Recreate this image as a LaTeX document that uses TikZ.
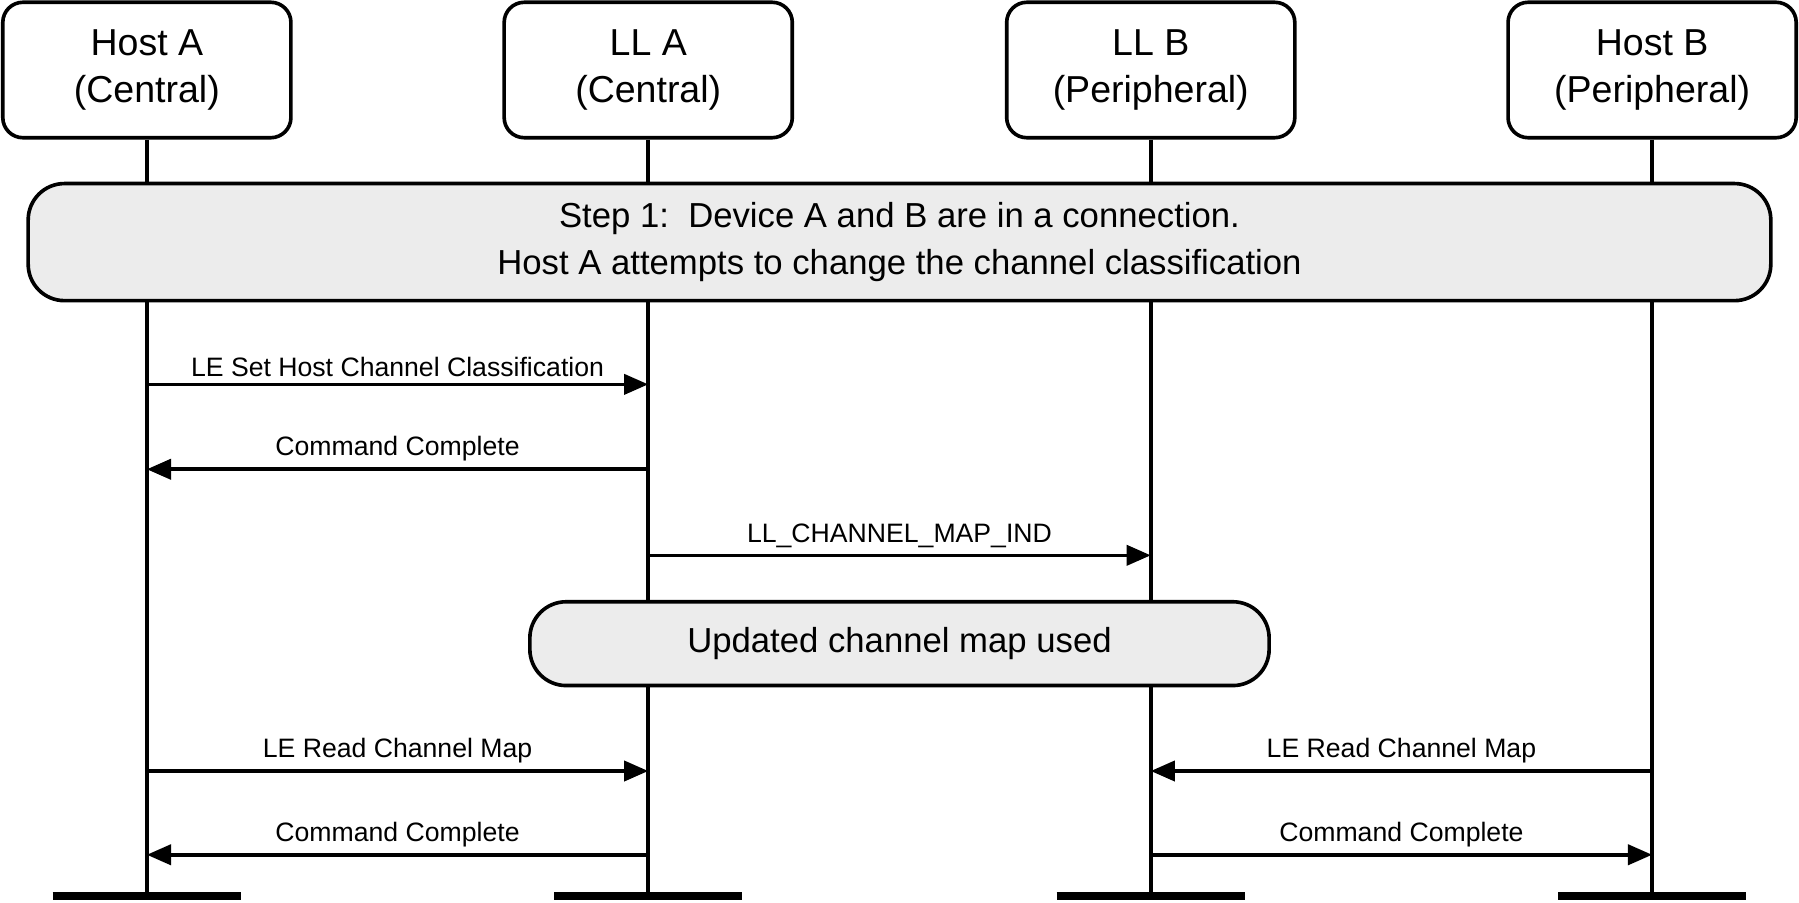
\documentclass[tikz,border=0pt]{standalone}
\usepackage{fontspec}
\setmainfont{Liberation Sans}
\usetikzlibrary{arrows.meta,positioning}

\begin{document}
\begin{tikzpicture}[
    x=0.01cm, y=-0.01cm,
    head/.style={rectangle, draw, line width=0.9pt, rounded corners=5pt, minimum width=2.51cm, minimum height=1.18cm, align=center, font=\fontsize{9.3}{11.5}\selectfont, inner sep=0pt},
    band/.style={rectangle, draw, line width=0.9pt, fill=gray!15, rounded corners=9pt, align=center, font=\fontsize{8.6}{11.5}\selectfont, inner sep=0pt},
    life/.style={line width=0.9pt},
    foot/.style={line width=1.9pt},
    msg/.style={line width=0.9pt, -{Triangle[length=6pt,width=5pt]}},
    lbl/.style={above, font=\fontsize{6.6}{8}\selectfont, inner sep=1.5pt}
]
    \useasboundingbox (0,0) rectangle (1568,787);
    % lifeline heads
    \node[head] (hA) at (128,61) {Host A\\(Central)};
    \node[head] (lA) at (565,61) {LL A\\(Central)};
    \node[head] (lB) at (1003,61) {LL B\\(Peripheral)};
    \node[head] (hB) at (1440,61) {Host B\\(Peripheral)};

    % lifelines and feet
    \foreach \n in {hA,lA,lB,hB} {
        \coordinate (\n-end) at (\n.south |- 0,781);
        \draw[life] (\n.south) -- (\n-end);
        \draw[foot] ([xshift=-0.82cm]\n-end) -- ([xshift=0.82cm]\n-end);
    }

    % step boxes
    \node[band, minimum width=15.18cm, minimum height=1.02cm] (step) at (784,211)
        {Step 1:\ \ Device A and B are in a connection.\\Host A attempts to change the channel classification};
    \node[band, minimum width=6.44cm, minimum height=0.73cm] (upd) at (784,561)
        {Updated channel map used};

    % messages
    \foreach \y/\a/\b/\t in {335/hA/lA/LE Set Host Channel Classification,
                             409/lA/hA/Command Complete,
                             484/lA/lB/LL\_CHANNEL\_MAP\_IND,
                             672/hA/lA/LE Read Channel Map,
                             672/hB/lB/LE Read Channel Map,
                             745/lA/hA/Command Complete,
                             745/lB/hB/Command Complete} {
        \coordinate (s) at (\a.south |- 0,\y);
        \coordinate (e) at (\b.south |- 0,\y);
        \draw[msg] (s) -- node[lbl] {\t} (e);
    }
\end{tikzpicture}
\end{document}
